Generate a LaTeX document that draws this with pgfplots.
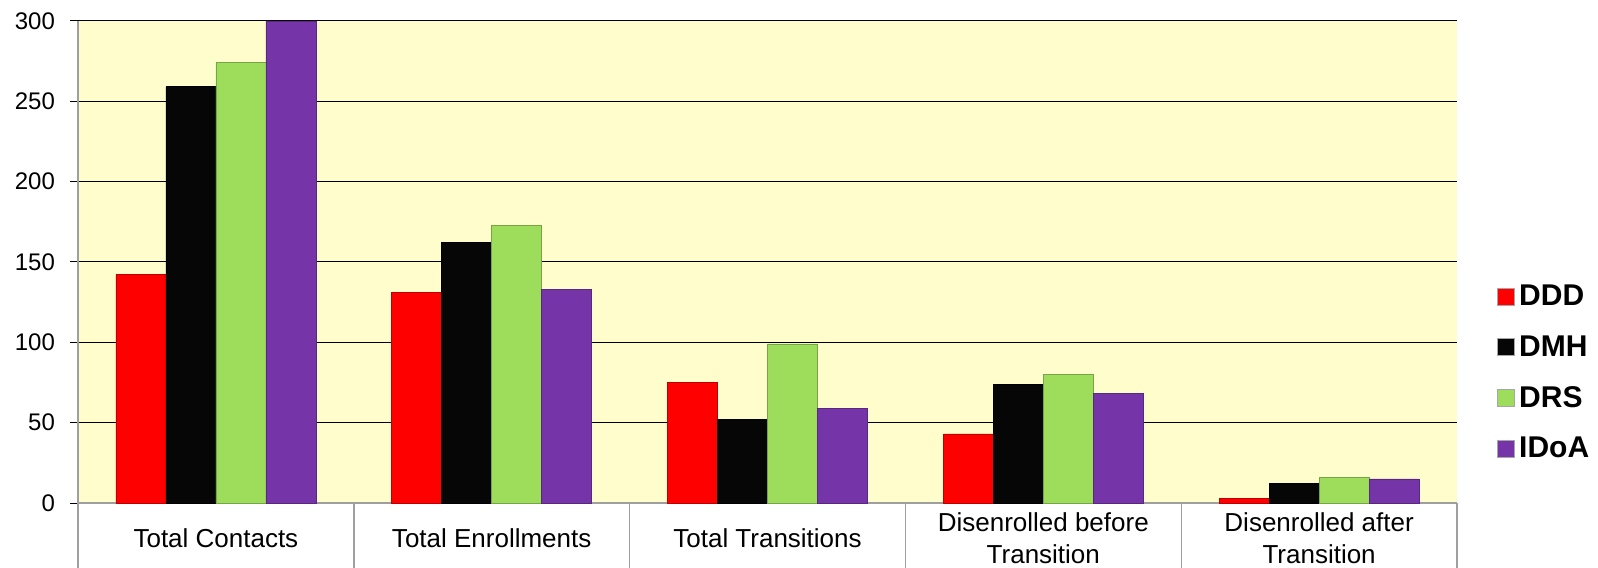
\documentclass[border=0pt]{standalone}
\usepackage{fontspec}
\setmainfont{Liberation Sans}
\usepackage{pgfplots}
\pgfplotsset{compat=1.18}
\usetikzlibrary{calc}
\definecolor{bgyellow}{HTML}{FFFDCC}
\definecolor{cDDD}{HTML}{FF0000}
\definecolor{cDMH}{HTML}{060606}
\definecolor{cDRS}{HTML}{9EDC5C}
\definecolor{cIDoA}{HTML}{7535A8}

\begin{document}
\begin{tikzpicture}
\begin{axis}[
  name=ax,
  scale only axis,
  width=689.5pt, height=241pt,
  clip=false,
  ybar=0pt, bar width=25pt,
  xmin=-0.5, xmax=4.5,
  ymin=0, ymax=300,
  ytick={0,50,...,300},
  xtick={0,1,2,3,4},
  xticklabels={Total Contacts, Total Enrollments, Total Transitions,
    {Disenrolled before\\Transition}, {Disenrolled after\\Transition}},
  xtick style={draw=none},
  axis x line*=bottom, axis y line*=left,
  axis line style={-, draw=gray!75, line width=0.8pt},
  tick align=outside, major tick length=4pt,
  ytick style={draw=black, line width=0.5pt},
  ymajorgrids, grid style={black, line width=0.5pt},
  axis background/.style={fill=bgyellow},
  /pgf/number format/assume math mode=true,
  yticklabel style={font=\fontsize{12}{14}\selectfont, xshift=-4pt},
  xticklabel style={font=\fontsize{13}{16}\selectfont, align=center,
    anchor=center, yshift=-13.5pt},
  legend style={at={(1,0.27)}, anchor=west, xshift=20pt, draw=none, fill=none,
    font=\bfseries\fontsize{15}{17}\selectfont, row sep=9.5pt, inner sep=0pt,
    cells={anchor=west}},
  legend image code/.code={\draw[#1, draw=gray!70] (0pt,-4.25pt) rectangle (8.5pt,4.25pt);},
]
\addplot[fill=cDDD, draw=cDDD!75!black] coordinates {(0,142) (1,131) (2,75) (3,43) (4,3)};
\addplot[fill=cDMH, draw=black] coordinates {(0,259) (1,162) (2,52) (3,74) (4,12)};
\addplot[fill=cDRS, draw=cDRS!75!black] coordinates {(0,274) (1,173) (2,99) (3,80) (4,16)};
\addplot[fill=cIDoA, draw=cIDoA!75!black] coordinates {(0,300) (1,133) (2,59) (3,68) (4,15)};
\legend{DDD, DMH, DRS, IDoA}
% separators of the category cells below the axis
\pgfplotsinvokeforeach{-0.5,0.5,1.5,2.5,3.5,4.5}{
  \draw[gray!75, line width=0.7pt] (axis cs:#1,0) -- ++(0pt,-40pt);
}
\end{axis}
\pgfresetboundingbox
\path[use as bounding box] ($(ax.south west)+(-39pt,-32pt)$) rectangle ($(ax.north east)+(70.5pt,10.5pt)$);
\end{tikzpicture}
\end{document}
